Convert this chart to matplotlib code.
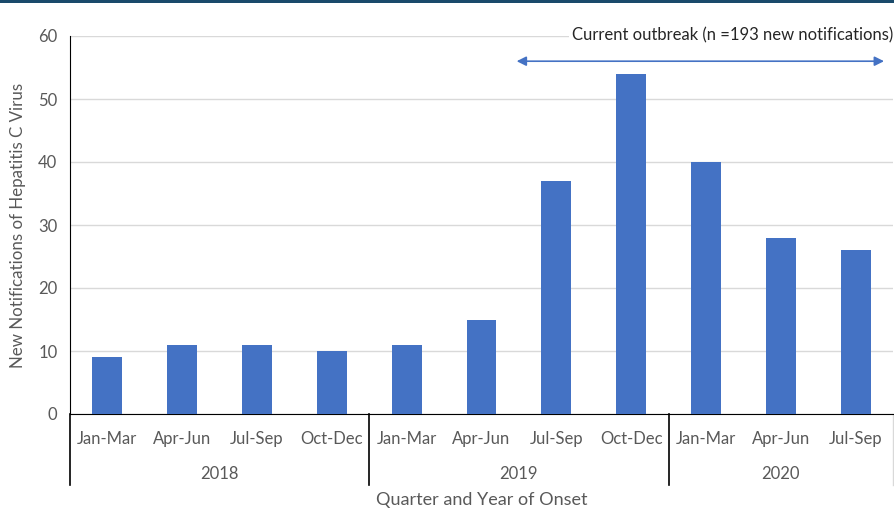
import matplotlib.pyplot as plt
from matplotlib.patches import Rectangle
import matplotlib.transforms as mtransforms

plt.rcParams['font.family'] = ['Lato', 'DejaVu Sans']

# data
quarters = ['Jan-Mar', 'Apr-Jun', 'Jul-Sep', 'Oct-Dec',
            'Jan-Mar', 'Apr-Jun', 'Jul-Sep', 'Oct-Dec',
            'Jan-Mar', 'Apr-Jun', 'Jul-Sep']
years = ['2018', '2019', '2020']
quarters_per_year = [4, 4, 3]
notifications = [9, 11, 11, 10, 11, 15, 37, 54, 40, 28, 26]
outbreak_text = 'Current outbreak (n =193 new notifications)'

bar_col = '#4472C4'
txt_col = '#595959'

fig = plt.figure(figsize=(8.94, 5.18), dpi=100, facecolor='w')
ax = fig.add_axes([70/894, 1 - 414/518, 823/894, 378/518])

x = list(range(len(quarters)))
ax.bar(x, notifications, width=0.4, color=bar_col, zorder=3)

ax.set_xlim(-0.5, len(quarters) - 0.5)
ax.set_ylim(0, 60)
ax.set_yticks(range(0, 61, 10))
ax.yaxis.grid(True, color='#D9D9D9', lw=1, zorder=0)
ax.tick_params(axis='y', length=0, pad=9, labelsize=12, labelcolor=txt_col)
ax.tick_params(axis='x', length=0, pad=12.5, labelsize=12, labelcolor=txt_col)
ax.set_xticks(x)
ax.set_xticklabels(quarters)
for s in ['top', 'right']:
    ax.spines[s].set_visible(False)
ax.spines['left'].set_color('black')
ax.spines['bottom'].set_color('black')

# year groups below axis
trans = mtransforms.blended_transform_factory(ax.transData, ax.transAxes)
sep_bottom = -71/378
start = -0.5
for yr, n in zip(years, quarters_per_year):
    ax.plot([start, start], [0, sep_bottom], color='black', lw=1.2,
            transform=trans, clip_on=False)
    ax.text(start + n/2, -60/378, yr, transform=trans, ha='center',
            va='center', fontsize=12, color=txt_col)
    start += n
ax.plot([start, start], [0, sep_bottom], color='#D9D9D9', lw=1,
        transform=trans, clip_on=False)

ax.set_xlabel('Quarter and Year of Onset', fontsize=13, color=txt_col, va='center')
ax.xaxis.set_label_coords(0.5, -86/378)
ax.set_ylabel('New Notifications of Hepatitis C Virus', fontsize=12.2,
              color=txt_col, va='center')
ax.yaxis.set_label_coords(-52/823, 0.5)

# outbreak annotation
ax.text(10.5, 60.1, outbreak_text, ha='right', va='center', fontsize=12,
        color='#262626', zorder=5,
        bbox=dict(facecolor='white', edgecolor='none', pad=2))
ax.annotate('', xy=(10.38, 56), xytext=(5.47, 56),
            arrowprops=dict(arrowstyle='<|-|>', color=bar_col, lw=1.2,
                            mutation_scale=14, shrinkA=0, shrinkB=0),
            annotation_clip=False)

# dark band at the top
fig.patches.append(Rectangle((0, 1 - 3/518), 1, 3/518, transform=fig.transFigure,
                             facecolor='#1A4A6B', edgecolor='none'))

plt.savefig('out.png', dpi=100, facecolor='w')
